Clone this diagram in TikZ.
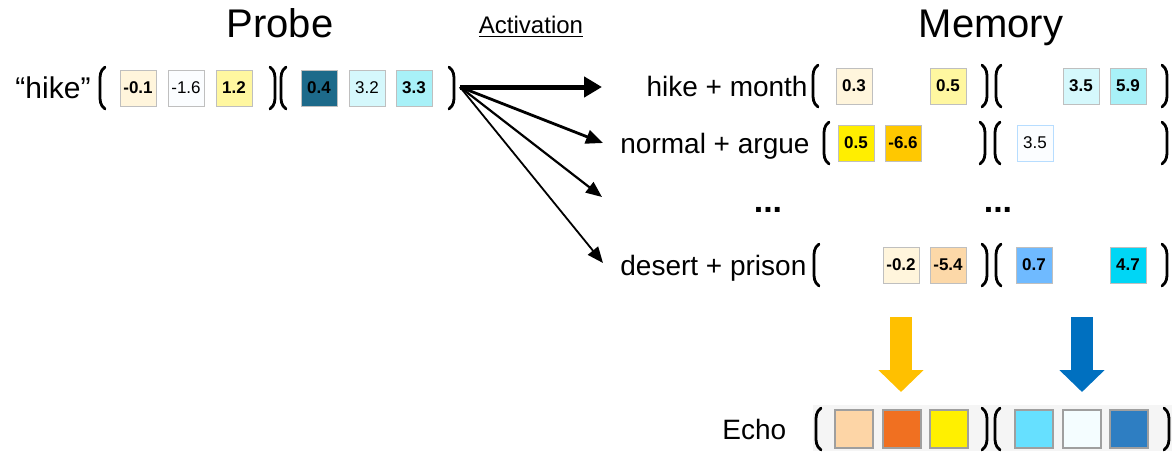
\documentclass[tikz,border=0pt]{standalone}
\usepackage{fontspec}
\setmainfont{Liberation Sans}
\usepackage{tikz}
\usetikzlibrary{arrows.meta}

\definecolor{cream}{HTML}{FFF5DC}
\definecolor{paleyel}{HTML}{FFF7A0}
\definecolor{paper}{HTML}{FBFDFF}
\definecolor{teal}{HTML}{1D6A8A}
\definecolor{icecyan}{HTML}{D5F8FC}
\definecolor{softcyan}{HTML}{A8F1F8}
\definecolor{brightyel}{HTML}{FFEE00}
\definecolor{amber}{HTML}{FFC800}
\definecolor{peach}{HTML}{FCD8A8}
\definecolor{skyblue}{HTML}{6FBAFF}
\definecolor{aqua}{HTML}{00D6F5}
\definecolor{echopeach}{HTML}{FDD5A6}
\definecolor{echoorange}{HTML}{F07021}
\definecolor{echoyel}{HTML}{FFF000}
\definecolor{echocyan}{HTML}{66E0FF}
\definecolor{echowhite}{HTML}{F4FDFF}
\definecolor{echoblue}{HTML}{2E7EC2}
\definecolor{fatorange}{HTML}{FFC000}
\definecolor{fatblue}{HTML}{0070C0}

\tikzset{
    cell/.style={draw=black!25, line width=0.5pt, minimum size=18pt, inner sep=0pt,
        font=\fontsize{8.5}{9}\selectfont\bfseries},
    ecell/.style={draw=gray!75, line width=0.8pt, minimum size=19pt, inner sep=0pt},
    lbl/.style={font=\fontsize{14}{16}\selectfont, text height=10pt, text depth=0pt, inner sep=0pt},
    title/.style={font=\fontsize{20}{24}\selectfont, anchor=base, inner sep=0pt},
    dots/.style={font=\fontsize{17}{20}\selectfont\bfseries, anchor=base, inner sep=0pt},
    parline/.style={line width=1.4pt, line cap=round},
    lpar/.pic={\draw[parline] (5,-21) .. controls (0,-17) and (0,-13) .. (0,-7) -- (0,7) .. controls (0,13) and (0,17) .. (5,21);},
    rpar/.pic={\draw[parline] (-5,-21) .. controls (0,-17) and (0,-13) .. (0,-7) -- (0,7) .. controls (0,13) and (0,17) .. (-5,21);},
    fat/.style={line width=11pt, -{Triangle[length=11pt,width=22pt]}}
}

\begin{document}
\begin{tikzpicture}[x=0.5pt,y=-0.5pt]
    \useasboundingbox (0,0) rectangle (1175,451);

    % headings
    \node[title] (probetitle) at (280,37) {Probe};
    \node[title] (memtitle) at (991,37) {Memory};
    \node[font=\fontsize{12}{14}\selectfont, anchor=base, inner sep=0pt] (act) at (531,33) {\underline{Activation}};

    % probe vector
    \node[lbl, font=\fontsize{15}{18}\selectfont] (probe) at (53,88) {“hike”};
    \pic at (100,88) {lpar};
    \node[cell, fill=cream] (p1) at (138,88) {-0.1};
    \node[cell, fill=paper, font=\fontsize{8.5}{9}\selectfont] (p2) at (186,88) {-1.6};
    \node[cell, fill=paleyel] (p3) at (234,88) {1.2};
    \pic at (275,88) {rpar};
    \pic at (281,88) {lpar};
    \node[cell, fill=teal] (p4) at (319,88) {0.4};
    \node[cell, fill=icecyan, font=\fontsize{8.5}{9}\selectfont] (p5) at (367,88) {3.2};
    \node[cell, fill=softcyan] (p6) at (414,88) {3.3};
    \pic at (454,88) {rpar};
    \coordinate (pout) at (460,87);

    % memory traces
    \node[lbl, anchor=east] (m1) at (808,86) {hike + month};
    \pic at (813,86) {lpar};
    \node[cell, fill=cream] (m11) at (854,86) {0.3};
    \node[cell, fill=paleyel] (m13) at (948,86) {0.5};
    \pic at (987,86) {rpar};
    \pic at (996,86) {lpar};
    \node[cell, fill=icecyan] (m15) at (1081,86) {3.5};
    \node[cell, fill=softcyan] (m16) at (1128,86) {5.9};
    \pic at (1167,86) {rpar};

    \node[lbl, anchor=west] (m2) at (620,143) {normal + argue};
    \pic at (824,143) {lpar};
    \node[cell, fill=brightyel] (m21) at (856,143) {0.5};
    \node[cell, fill=amber] (m22) at (903,143) {-6.6};
    \pic at (985,143) {rpar};
    \pic at (995,143) {lpar};
    \node[cell, fill=paper, draw=skyblue!50, font=\fontsize{8.5}{9}\selectfont] (m24) at (1035,143) {3.5};
    \pic at (1167,143) {rpar};

    \node[dots] (dots1) at (768,212) {...};
    \node[dots] (dots2) at (998,212) {...};

    \node[lbl, anchor=west] (m4) at (620,265) {desert + prison};
    \pic at (814,265) {lpar};
    \node[cell, fill=cream] (m42) at (901,265) {-0.2};
    \node[cell, fill=peach] (m43) at (948,265) {-5.4};
    \pic at (987,265) {rpar};
    \pic at (996,265) {lpar};
    \node[cell, fill=skyblue] (m44) at (1034,265) {0.7};
    \node[cell, fill=aqua] (m46) at (1128,265) {4.7};
    \pic at (1167,265) {rpar};

    \coordinate (m1in) at (602,87);
    \coordinate (m2in) at (603,143);
    \coordinate (m3in) at (602,197);
    \coordinate (m4in) at (603,263);

    % activation arrows
    \draw[line width=2.5pt, -{Triangle[length=9pt,width=10pt]}] (pout) -- (m1in);
    \draw[line width=1.4pt, -{Triangle[length=8.5pt,width=7pt]}] (pout) -- (m2in);
    \draw[line width=1.1pt, -{Triangle[length=8pt,width=6.5pt]}] (pout) -- (m3in);
    \draw[line width=0.9pt, -{Triangle[length=8pt,width=6.5pt]}] (pout) -- (m4in);

    % echo
    \fill[gray!8] (813,405) rectangle (1172,451);
    \node[lbl, anchor=west] (echo) at (722,429) {Echo};
    \begin{scope}[yscale=1.08]
        \pic at (816,429/1.08) {lpar};
        \pic at (987,429/1.08) {rpar};
        \pic at (995,429/1.08) {lpar};
        \pic at (1169,429/1.08) {rpar};
    \end{scope}
    \node[ecell, fill=echopeach] (e1) at (854,429) {};
    \node[ecell, fill=echoorange] (e2) at (902,429) {};
    \node[ecell, fill=echoyel] (e3) at (949,429) {};
    \node[ecell, fill=echocyan] (e4) at (1034,429) {};
    \node[ecell, fill=echowhite] (e5) at (1082,429) {};
    \node[ecell, fill=echoblue] (e6) at (1129,429) {};

    \coordinate (ytop) at (901,317);
    \coordinate (ybot) at (901,392);
    \coordinate (btop) at (1082,317);
    \coordinate (bbot) at (1082,392);
    \draw[fat, fatorange] (ytop) -- (ybot);
    \draw[fat, fatblue] (btop) -- (bbot);

\end{tikzpicture}
\end{document}
